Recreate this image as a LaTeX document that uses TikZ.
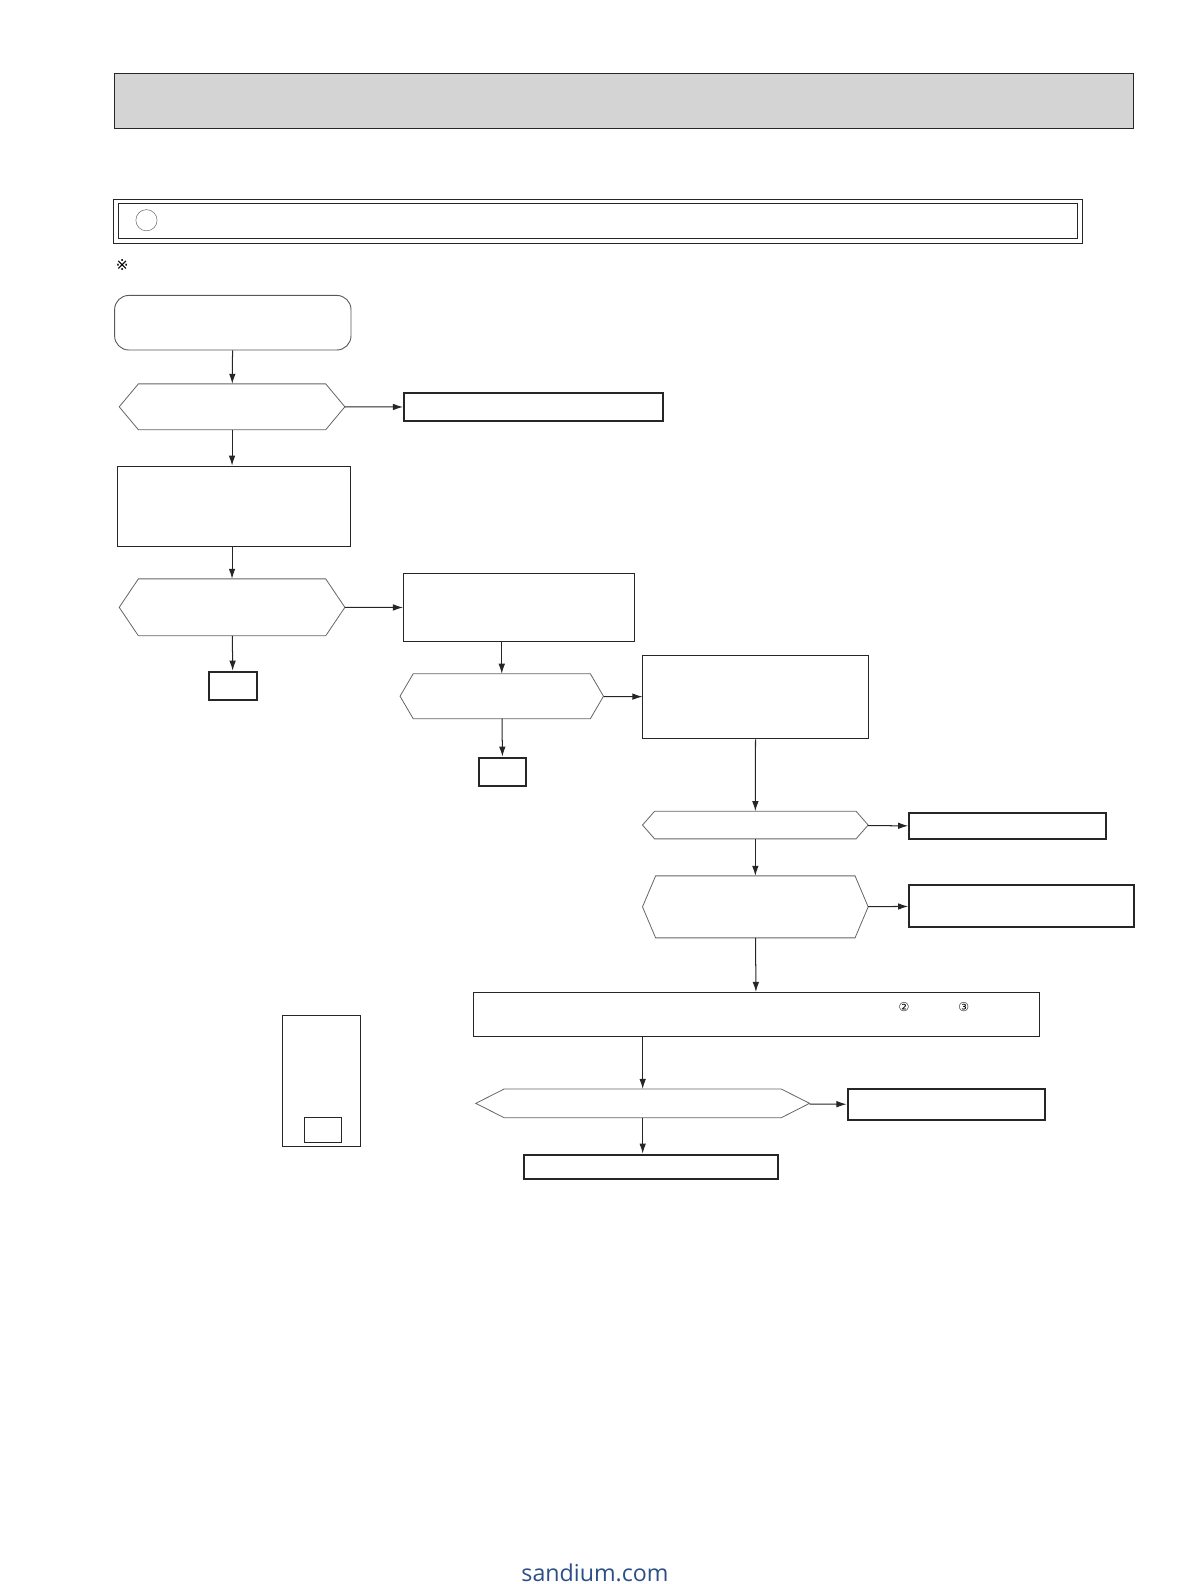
\documentclass[tikz,border=0pt]{standalone}
\usepackage{fontspec}
\usepackage{tikz}
\usetikzlibrary{positioning, calc, arrows.meta}

\newfontfamily\symfont{DejaVu Sans}
\newfontfamily\webfont{Open Sans}
\definecolor{headgray}{HTML}{D4D4D4}
\definecolor{weblue}{HTML}{2B4F86}

% hexagon outline round a named node
\newcommand{\hexout}[2]{%
  \draw[hexline] (#1.west) -- ([xshift=#2]#1.north west) -- ([xshift=-#2]#1.north east)
    -- (#1.east) -- ([xshift=-#2]#1.south east) -- ([xshift=#2]#1.south west) -- cycle;}

\tikzset{
  thinbox/.style={draw=black!85, line width=0.9pt, inner sep=0pt, anchor=north west},
  thickbox/.style={draw=black!85, line width=2pt, inner sep=0pt, anchor=north west},
  hexnode/.style={inner sep=0pt, anchor=north west},
  hexline/.style={draw=black!60, line width=0.8pt},
  marktext/.style={font=\symfont\fontsize{12}{14}\selectfont, inner sep=0pt},
  arr/.style={-{Latex[length=10pt,width=6.5pt]}, line width=1pt, black!85}
}

\begin{document}
\begin{tikzpicture}[x=1pt, y=-1pt]
    \useasboundingbox (0,0) rectangle (1179,1568);

    % Header band
    \node[thinbox, fill=headgray, minimum width=1009pt, minimum height=55pt] (header) at (113,72) {};

    % Title frame
    \node[thinbox, minimum width=959pt, minimum height=44pt] (frameout) at (112,197) {};
    \node[thinbox, line width=0.7pt, minimum width=949pt, minimum height=35pt] (framein) at (117,201) {};
    \draw[black!60, line width=0.5pt] (145,218) circle (10.5);
    \node[marktext, font=\symfont\fontsize{15}{16}\selectfont] (note) at (121,262) {※};

    % Main column
    \node[thinbox, draw=black!65, rounded corners=14pt, minimum width=234pt, minimum height=54pt] (start) at (113,292) {};
    \node[hexnode, minimum width=223pt, minimum height=45pt] (q1) at (118,380) {};
    \hexout{q1}{19pt}
    \node[thickbox, minimum width=256pt, minimum height=28pt] (r1) at (399,388) {};
    \node[thinbox, minimum width=230pt, minimum height=79pt] (check) at (116,461) {};
    \node[hexnode, minimum width=223pt, minimum height=56pt] (q2) at (118,573) {};
    \hexout{q2}{19pt}
    \node[thickbox, minimum width=47pt, minimum height=28pt] (ok1) at (206,664) {};

    % Second column
    \node[thinbox, minimum width=229pt, minimum height=68pt] (b3) at (399,567) {};
    \node[hexnode, minimum width=201pt, minimum height=44pt] (q3) at (396,667) {};
    \hexout{q3}{13pt}
    \node[thickbox, minimum width=47pt, minimum height=28pt] (ok2) at (473,749) {};

    % Third column
    \node[thinbox, minimum width=223pt, minimum height=83pt] (b4) at (636,648) {};
    \node[hexnode, minimum width=223pt, minimum height=27pt] (q4) at (636,803) {};
    \hexout{q4}{12pt}
    \node[thickbox, minimum width=195pt, minimum height=26pt] (r4) at (899,804) {};
    \node[hexnode, minimum width=223pt, minimum height=61pt] (q5) at (636,867) {};
    \hexout{q5}{13pt}
    \node[thickbox, minimum width=223pt, minimum height=42pt] (r5) at (899,875) {};

    % Bottom part
    \node[thinbox, minimum width=560pt, minimum height=44pt] (wide) at (468,982) {};
    \node[marktext] (c2) at (895,997) {②};
    \node[marktext] (c3) at (954,997) {③};
    \node[hexnode, minimum width=330pt, minimum height=28pt] (q6) at (471,1078) {};
    \hexout{q6}{28pt}
    \node[thickbox, minimum width=195pt, minimum height=31pt] (r6) at (838,1077) {};
    \node[thickbox, minimum width=251pt, minimum height=24pt] (last) at (518,1142) {};

    % Side panel
    \node[thinbox, line width=1.2pt, minimum width=77pt, minimum height=129pt] (panel) at (279,1005) {};
    \node[thinbox, minimum width=37pt, minimum height=24pt] (key) at (301,1106) {};

    % Connectors
    \draw[arr] (start) -- (q1);
    \draw[arr] (q1) -- (r1);
    \draw[arr] (q1) -- (q1 |- check.north);
    \draw[arr] (q2 |- check.south) -- (q2);
    \draw[arr] (q2) -- (b3);
    \draw[arr] (q2) -- (ok1);
    \draw[arr] (q3 |- b3.south) -- (q3);
    \draw[arr] (q3) -- (b4);
    \draw[arr] (q3) -- (ok2);
    \draw[arr] (b4) -- (q4);
    \draw[arr] (q4) -- (r4);
    \draw[arr] (q4) -- (q5);
    \draw[arr] (q5) -- (r5);
    \draw[arr] (q5) -- (wide);
    \draw[arr] (wide.south -| q6) -- (q6);
    \draw[arr] (q6) -- (r6);
    \draw[arr] (q6) -- (q6 |- last.north);

    % Footer
    \node[font=\webfont\fontsize{23}{26}\selectfont, text=weblue] (site) at (589,1557) {sandium.com};
\end{tikzpicture}
\end{document}
